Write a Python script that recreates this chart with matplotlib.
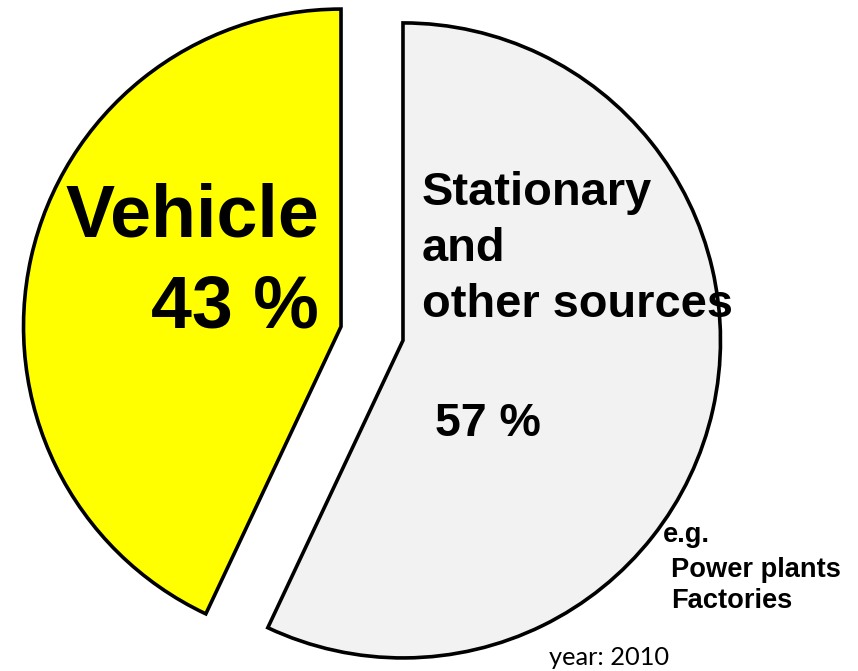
import matplotlib
matplotlib.use("Agg")
import matplotlib.pyplot as plt

# emission share by source, year 2010
sources = ["Vehicle", "Stationary and other sources"]
shares = [43, 57]
colors = ["#ffff00", "#f2f2f2"]
explode = [0.1, 0.1]

W, H = 858, 671
R = 317.5            # pie radius in pixels
CX, CY = 372, 333.5  # pie centre in pixels (from top-left)


def px(x, y):
    # pixel position -> data coords of the full-figure axes
    return (x - CX) / R, (CY - y) / R


fig = plt.figure(figsize=(W / 100, H / 100), dpi=100)
ax = fig.add_axes([0, 0, 1, 1])
ax.pie(shares, colors=colors, explode=explode, startangle=90,
       counterclock=True, radius=1.0,
       wedgeprops=dict(edgecolor="black", linewidth=2.6))
ax.set_aspect("auto")
ax.set_xlim(-CX / R, (W - CX) / R)
ax.set_ylim(-(H - CY) / R, CY / R)
ax.axis("off")

bold = dict(family="Liberation Sans", weight="bold", color="black")

# vehicle label, right aligned
ax.text(*px(319, 236), "Vehicle", ha="right", va="baseline", fontsize=53, **bold)
ax.text(*px(319, 327), f"{shares[0]} %", ha="right", va="baseline", fontsize=53, **bold)

# stationary label
for yb, line in zip([205, 261, 317], ["Stationary", "and", "other sources"]):
    ax.text(*px(422, yb), line, ha="left", va="baseline", fontsize=33.8, **bold)
ax.text(*px(435, 436), f"{shares[1]} %", ha="left", va="baseline", fontsize=33.5, **bold)

# examples
ax.text(*px(663, 542), "e.g.", ha="left", va="baseline", fontsize=19.6, **bold)
ax.text(*px(671, 577), "Power plants", ha="left", va="baseline", fontsize=19.6, **bold)
ax.text(*px(671, 608), "Factories", ha="left", va="baseline", fontsize=19.6, **bold)

ax.text(*px(549, 665), "year: 2010", ha="left", va="baseline", fontsize=18.3,
        family="Lato", color="black")

fig.savefig("out.png", dpi=100)
